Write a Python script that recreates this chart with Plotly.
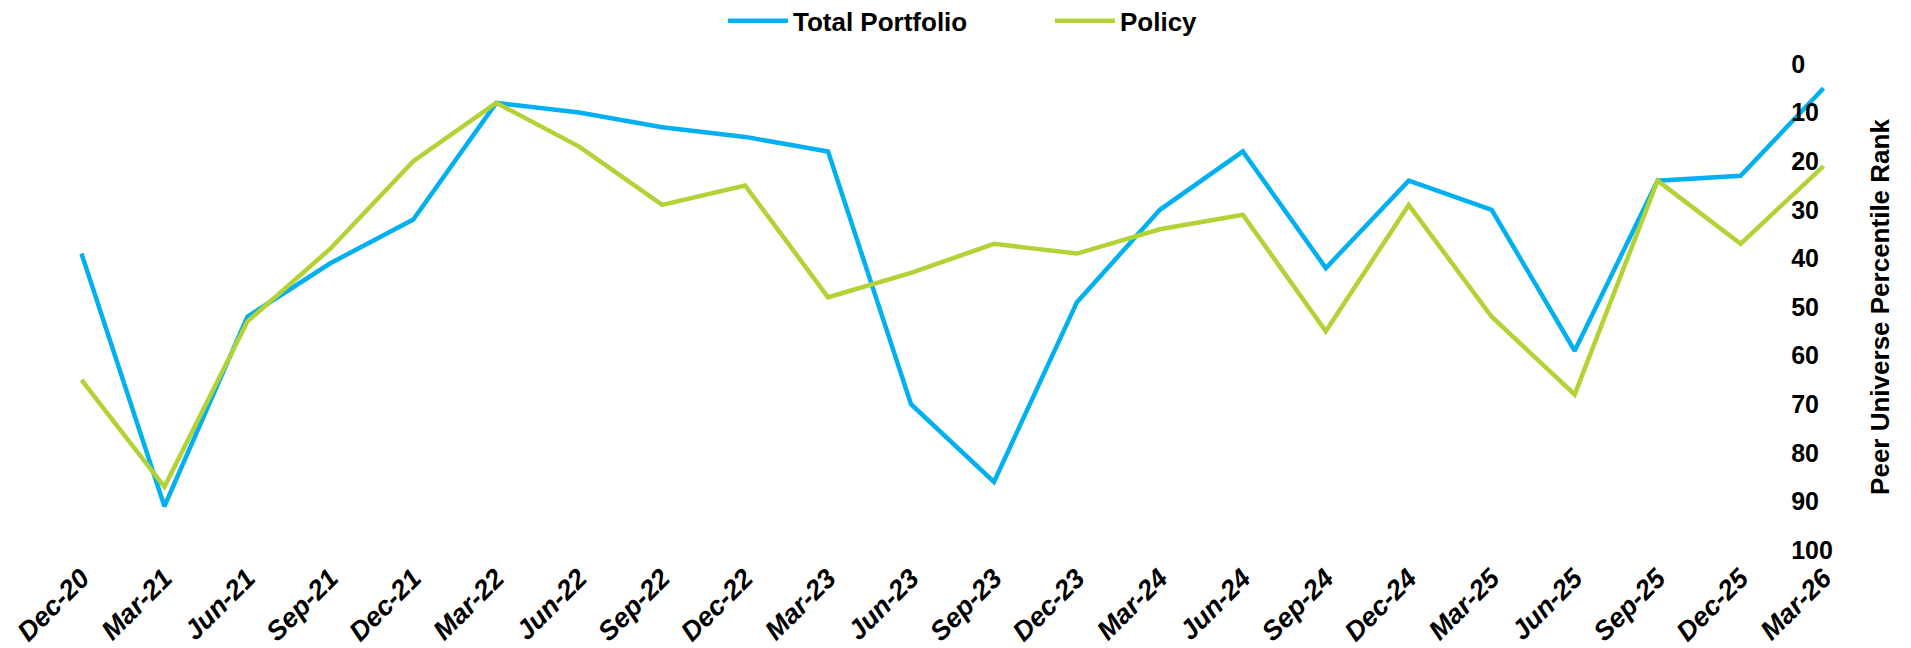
import plotly.graph_objects as go

quarters = ["Dec-20", "Mar-21", "Jun-21", "Sep-21", "Dec-21", "Mar-22", "Jun-22", "Sep-22",
            "Dec-22", "Mar-23", "Jun-23", "Sep-23", "Dec-23", "Mar-24", "Jun-24", "Sep-24",
            "Dec-24", "Mar-25", "Jun-25", "Sep-25", "Dec-25", "Mar-26"]
total_portfolio = [39, 91, 52, 41, 32, 8, 10, 13, 15, 18, 70, 86, 49, 30, 18, 42, 24, 30, 59, 24, 23, 5]
policy = [65, 87, 53, 38, 20, 8, 17, 29, 25, 48, 43, 37, 39, 34, 31, 55, 29, 52, 68, 24, 37, 21]
y_ticks = list(range(0, 101, 10))

FONT = "Liberation Sans, Arial, sans-serif"

fig = go.Figure()
fig.add_trace(go.Scatter(x=quarters, y=total_portfolio, name="Total Portfolio", mode="lines",
                         line=dict(color="#00B0F0", width=4.5), cliponaxis=False))
fig.add_trace(go.Scatter(x=quarters, y=policy, name="Policy", mode="lines",
                         line=dict(color="#B2D235", width=4.5), cliponaxis=False))

fig.update_layout(
    width=1903, height=640,
    margin=dict(l=32, r=46, t=56, b=98),
    paper_bgcolor="white", plot_bgcolor="white",
    font=dict(family=FONT, color="black", size=22),
    showlegend=True,
    legend=dict(orientation="h", xref="container", yref="container",
                x=0.3757, xanchor="left", y=0.98, yanchor="middle",
                font=dict(family=FONT, size=26, color="black", weight="bold"),
                itemwidth=60, entrywidth=252, entrywidthmode="pixels", traceorder="normal"),
    xaxis=dict(type="category", range=[-0.5, len(quarters) - 0.5], domain=[0, 1],
               showgrid=False, zeroline=False, showline=False, ticks="", automargin=False,
               tickangle=-45, ticklabelstandoff=6,
               tickfont=dict(family=FONT, size=27, color="black", weight="bold", style="italic")),
    yaxis=dict(range=[100, 0], tickvals=y_ticks, showgrid=False, zeroline=False, showline=False,
               side="right", anchor="free", position=0.959, ticks="", automargin=False,
               tickfont=dict(family=FONT, size=25, color="black", weight="bold"),
               title=dict(text="Peer Universe Percentile Rank", standoff=38,
                          font=dict(family=FONT, size=26, color="black", weight="bold"))),
)

fig.write_html("out.html")
